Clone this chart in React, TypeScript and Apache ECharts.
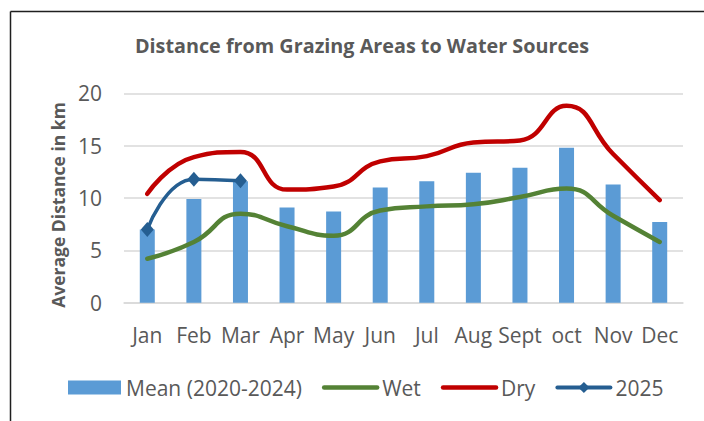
import React, { useEffect, useRef } from "react";
import * as echarts from "echarts";

const months = ["Jan", "Feb", "Mar", "Apr", "May", "Jun", "Jul", "Aug", "Sept", "oct", "Nov", "Dec"];
const meanValues = [7.0, 9.9, 11.6, 9.1, 8.7, 11.0, 11.6, 12.4, 12.9, 14.8, 11.3, 7.7];
const wetValues = [4.2, 5.8, 8.5, 7.3, 6.4, 8.8, 9.2, 9.4, 10.1, 10.9, 8.3, 5.8];
const dryValues = [10.4, 13.9, 14.4, 10.8, 11.1, 13.5, 14.0, 15.3, 15.5, 18.8, 14.2, 9.8];
const values2025 = [7.0, 11.8, 11.65, null, null, null, null, null, null, null, null, null];
const yTicks = [0, 5, 10, 15, 20];

const titleText = "Distance from Grazing Areas to Water Sources";
const yAxisTitle = "Average Distance in km";
const seriesNames = ["Mean (2020-2024)", "Wet", "Dry", "2025"];

const TEXT = "#595959";
const FONT = "'Open Sans', 'Noto Sans', sans-serif";

export default function App() {
  const ref = useRef<HTMLDivElement>(null);
  useEffect(() => {
    if (!ref.current) return;
    const chart = echarts.init(ref.current, undefined, { renderer: "svg" });
    chart.setOption({
      animation: false,
      backgroundColor: "#ffffff",
      textStyle: { fontFamily: FONT, color: TEXT },
      grid: { left: 124, right: 21, top: 93.3, bottom: 118.3, containLabel: false },
      graphic: [
        { type: "line", shape: { x1: 10.5, y1: 11.5, x2: 710, y2: 11.5 }, style: { stroke: "#1f1f1f", lineWidth: 1.5 } },
        { type: "line", shape: { x1: 10.5, y1: 11.5, x2: 10.5, y2: 430 }, style: { stroke: "#1f1f1f", lineWidth: 1.5 } },
        {
          type: "text",
          x: 362,
          y: 45,
          style: {
            text: titleText,
            fill: TEXT,
            font: `bold 19.8px ${FONT}`,
            textAlign: "center",
            textVerticalAlign: "middle",
          },
        },
        {
          type: "text",
          x: 58,
          y: 205,
          rotation: Math.PI / 2,
          style: {
            text: yAxisTitle,
            fill: TEXT,
            font: `bold 17.5px ${FONT}`,
            textAlign: "center",
            textVerticalAlign: "middle",
          },
        },
      ],
      legend: {
        left: 68,
        top: 377,
        padding: 0,
        itemWidth: 53,
        itemHeight: 14,
        itemGap: 20,
        textStyle: { fontFamily: FONT, fontSize: 21, color: TEXT },
        data: [
          { name: seriesNames[0], icon: "rect" },
          { name: seriesNames[1], itemStyle: { opacity: 0 }, lineStyle: { width: 4.5, cap: "round", color: "#548235" } },
          { name: seriesNames[2], itemStyle: { opacity: 0 }, lineStyle: { width: 4.5, cap: "round", color: "#C00000" } },
          { name: seriesNames[3], lineStyle: { width: 4, cap: "round", color: "#255E91" } },
        ],
      },
      xAxis: {
        type: "category",
        data: months,
        axisLine: { lineStyle: { color: "#D9D9D9", width: 1.5 } },
        axisTick: { show: false },
        axisLabel: { color: TEXT, fontSize: 21, fontFamily: FONT, margin: 22, interval: 0 },
      },
      yAxis: {
        type: "value",
        min: yTicks[0],
        max: yTicks[yTicks.length - 1],
        interval: yTicks[1] - yTicks[0],
        axisLine: { show: false },
        axisTick: { show: false },
        splitLine: { lineStyle: { color: "#D9D9D9", width: 1.5 } },
        axisLabel: { color: TEXT, fontSize: 21, fontFamily: FONT, margin: 22 },
      },
      series: [
        {
          name: seriesNames[0],
          type: "bar",
          data: meanValues,
          barWidth: 15,
          itemStyle: { color: "#5B9BD5" },
        },
        {
          name: seriesNames[1],
          type: "line",
          data: wetValues,
          smooth: 0.5,
          symbol: "none",
          lineStyle: { color: "#548235", width: 4.5, cap: "round" },
          itemStyle: { color: "#548235" },
        },
        {
          name: seriesNames[2],
          type: "line",
          data: dryValues,
          smooth: 0.5,
          symbol: "none",
          lineStyle: { color: "#C00000", width: 4.5, cap: "round" },
          itemStyle: { color: "#C00000" },
        },
        {
          name: seriesNames[3],
          type: "line",
          data: values2025,
          smooth: 0.5,
          symbol: "diamond",
          symbolSize: [13, 15],
          showSymbol: true,
          lineStyle: { color: "#255E91", width: 3.5, cap: "round" },
          itemStyle: { color: "#255E91" },
          z: 5,
        },
      ],
    });
    return () => chart.dispose();
  }, []);
  return <div ref={ref} style={{ position: "absolute", left: 0, top: 0, width: 704, height: 421 }} />;
}
